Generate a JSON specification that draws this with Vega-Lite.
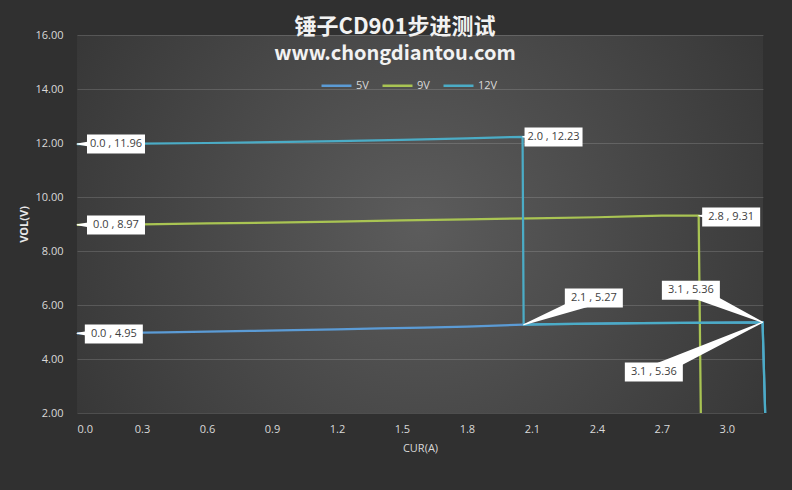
{
  "$schema": "https://vega.github.io/schema/vega-lite/v6.json",
  "width": 686,
  "height": 378,
  "autosize": "none",
  "padding": {"left": 77, "top": 35, "right": 29, "bottom": 77},
  "background": "#303030",
  "view": {
    "stroke": null,
    "fill": {
      "gradient": "radial",
      "x1": 0.5, "y1": 0.5, "r1": 0,
      "x2": 0.5, "y2": 0.5, "r2": 0.75,
      "stops": [
        {"offset": 0, "color": "#5c5c5c"},
        {"offset": 1, "color": "#2c2c2c"}
      ]
    }
  },
  "title": {
    "text": "锤子CD901步进测试",
    "subtitle": "www.chongdiantou.com",
    "anchor": "middle",
    "offset": -36,
    "dx": -25,
    "font": "Noto Sans CJK SC",
    "fontSize": 22,
    "fontWeight": "bold",
    "color": "#f2f2f2",
    "subtitleFont": "Noto Sans CJK SC",
    "subtitleFontSize": 20,
    "subtitleFontWeight": "bold",
    "subtitleColor": "#f2f2f2",
    "subtitlePadding": 5
  },
  "datasets": {
    "lines": [
      {"series": "5V", "cur": 0, "vol": 4.95},
      {"series": "5V", "cur": 0.2, "vol": 4.97},
      {"series": "5V", "cur": 0.4, "vol": 4.99},
      {"series": "5V", "cur": 0.6, "vol": 5.01},
      {"series": "5V", "cur": 0.8, "vol": 5.04},
      {"series": "5V", "cur": 1.0, "vol": 5.07},
      {"series": "5V", "cur": 1.2, "vol": 5.10},
      {"series": "5V", "cur": 1.4, "vol": 5.13},
      {"series": "5V", "cur": 1.6, "vol": 5.16},
      {"series": "5V", "cur": 1.8, "vol": 5.20},
      {"series": "5V", "cur": 2.06, "vol": 5.27},
      {"series": "5V", "cur": 2.2, "vol": 5.29},
      {"series": "5V", "cur": 2.4, "vol": 5.31},
      {"series": "5V", "cur": 2.6, "vol": 5.33},
      {"series": "5V", "cur": 2.8, "vol": 5.34},
      {"series": "5V", "cur": 3.0, "vol": 5.35},
      {"series": "5V", "cur": 3.165, "vol": 5.36},
      {"series": "5V", "cur": 3.177, "vol": 2.0},
      {"series": "9V", "cur": 0, "vol": 8.97},
      {"series": "9V", "cur": 0.3, "vol": 8.99},
      {"series": "9V", "cur": 0.6, "vol": 9.02},
      {"series": "9V", "cur": 0.9, "vol": 9.05},
      {"series": "9V", "cur": 1.2, "vol": 9.09},
      {"series": "9V", "cur": 1.5, "vol": 9.13},
      {"series": "9V", "cur": 1.8, "vol": 9.17},
      {"series": "9V", "cur": 2.1, "vol": 9.21},
      {"series": "9V", "cur": 2.4, "vol": 9.25},
      {"series": "9V", "cur": 2.6, "vol": 9.29},
      {"series": "9V", "cur": 2.7, "vol": 9.31},
      {"series": "9V", "cur": 2.87, "vol": 9.31},
      {"series": "9V", "cur": 2.88, "vol": 2.0},
      {"series": "12V", "cur": 0, "vol": 11.96},
      {"series": "12V", "cur": 0.3, "vol": 11.98},
      {"series": "12V", "cur": 0.6, "vol": 12.0},
      {"series": "12V", "cur": 0.9, "vol": 12.03},
      {"series": "12V", "cur": 1.2, "vol": 12.07},
      {"series": "12V", "cur": 1.5, "vol": 12.12},
      {"series": "12V", "cur": 1.8, "vol": 12.17},
      {"series": "12V", "cur": 2.0, "vol": 12.22},
      {"series": "12V", "cur": 2.057, "vol": 12.23},
      {"series": "12V", "cur": 2.062, "vol": 5.27},
      {"series": "12V", "cur": 2.2, "vol": 5.29},
      {"series": "12V", "cur": 2.4, "vol": 5.31},
      {"series": "12V", "cur": 2.6, "vol": 5.33},
      {"series": "12V", "cur": 2.8, "vol": 5.34},
      {"series": "12V", "cur": 3.0, "vol": 5.35},
      {"series": "12V", "cur": 3.165, "vol": 5.36},
      {"series": "12V", "cur": 3.177, "vol": 2.0}
    ],
    "wedges": [
      {"id": "a", "cur": 0, "vol": 11.96, "w": 0},
      {"id": "a", "cur": 0.18, "vol": 11.96, "w": 1},
      {"id": "b", "cur": 2.057, "vol": 12.23, "w": 0},
      {"id": "b", "cur": 2.2, "vol": 12.22, "w": 1},
      {"id": "c", "cur": 0, "vol": 8.97, "w": 0},
      {"id": "c", "cur": 0.18, "vol": 8.96, "w": 1},
      {"id": "d", "cur": 2.87, "vol": 9.31, "w": 0},
      {"id": "d", "cur": 3.02, "vol": 9.26, "w": 1},
      {"id": "e", "cur": 2.062, "vol": 5.27, "w": 0},
      {"id": "e", "cur": 2.386, "vol": 6.26, "w": 1},
      {"id": "f", "cur": 3.165, "vol": 5.36, "w": 0},
      {"id": "f", "cur": 2.834, "vol": 6.55, "w": 1},
      {"id": "g", "cur": 3.165, "vol": 5.36, "w": 0},
      {"id": "g", "cur": 2.663, "vol": 3.52, "w": 1},
      {"id": "h", "cur": 0, "vol": 4.95, "w": 0},
      {"id": "h", "cur": 0.17, "vol": 4.93, "w": 1}
    ],
    "labels": [
      {"t": "0.0 , 11.96", "cur": 0.18, "vol": 11.96},
      {"t": "2.0 , 12.23", "cur": 2.2, "vol": 12.22},
      {"t": "0.0 , 8.97", "cur": 0.18, "vol": 8.96},
      {"t": "2.8 , 9.31", "cur": 3.02, "vol": 9.26},
      {"t": "2.1 , 5.27", "cur": 2.386, "vol": 6.26},
      {"t": "3.1 , 5.36", "cur": 2.834, "vol": 6.55},
      {"t": "3.1 , 5.36", "cur": 2.663, "vol": 3.52},
      {"t": "0.0 , 4.95", "cur": 0.17, "vol": 4.93}
    ]
  },
  "encoding": {
    "x": {
      "field": "cur",
      "type": "quantitative",
      "title": "CUR(A)",
      "scale": {"domain": [0, 3.167], "nice": false, "zero": false},
      "axis": {
        "values": [0, 0.3, 0.6, 0.9, 1.2, 1.5, 1.8, 2.1, 2.4, 2.7, 3.0],
        "format": ".1f",
        "grid": false,
        "domain": false,
        "ticks": false,
        "labelPadding": 10,
        "labelFont": "Open Sans",
        "labelFontSize": 11,
        "labelColor": "#d9d9d9",
        "titleFont": "Open Sans",
        "titleFontSize": 11,
        "titleFontWeight": "normal",
        "titleColor": "#d9d9d9",
        "titlePadding": 8
      }
    },
    "y": {
      "field": "vol",
      "type": "quantitative",
      "title": "VOL(V)",
      "scale": {"domain": [2, 16], "nice": false, "zero": false},
      "axis": {
        "values": [2, 4, 6, 8, 10, 12, 14, 16],
        "format": ".2f",
        "grid": true,
        "gridColor": "#ffffff",
        "gridOpacity": 0.15,
        "gridWidth": 1,
        "domain": false,
        "ticks": false,
        "labelPadding": 14,
        "labelFont": "Open Sans",
        "labelFontSize": 11,
        "labelColor": "#d9d9d9",
        "titleFont": "Open Sans",
        "titleFontSize": 11,
        "titleFontWeight": "bold",
        "titleColor": "#e8e8e8",
        "titlePadding": 5
      }
    }
  },
  "layer": [
    {
      "data": {"name": "lines"},
      "mark": {"type": "line", "strokeWidth": 2.25, "clip": false},
      "encoding": {
        "color": {
          "field": "series",
          "type": "nominal",
          "scale": {"domain": ["5V", "9V", "12V"], "range": ["#5b9bd5", "#a9c453", "#4bacc6"]},
          "legend": {
            "title": null,
            "orient": "none",
            "legendX": 243,
            "legendY": 34,
            "direction": "horizontal",
            "symbolType": "stroke",
            "symbolSize": 900,
            "symbolStrokeWidth": 2.5,
            "labelFont": "Open Sans",
            "labelFontSize": 11,
            "labelColor": "#d9d9d9",
            "labelOffset": 3,
            "columnPadding": 8
          }
        }
      }
    },
    {
      "data": {"name": "wedges"},
      "mark": {"type": "trail", "color": "#ffffff", "clip": false},
      "encoding": {
        "detail": {"field": "id"},
        "order": {"field": "w"},
        "size": {"field": "w", "type": "quantitative", "scale": {"domain": [0, 1], "range": [0, 14]}, "legend": null}
      }
    },
    {
      "data": {"name": "labels"},
      "mark": {"type": "rect", "width": 58, "height": 19, "color": "#ffffff", "clip": false}
    },
    {
      "data": {"name": "labels"},
      "mark": {"type": "text", "font": "Open Sans", "fontSize": 11, "color": "#404040"},
      "encoding": {"text": {"field": "t"}}
    }
  ]
}
